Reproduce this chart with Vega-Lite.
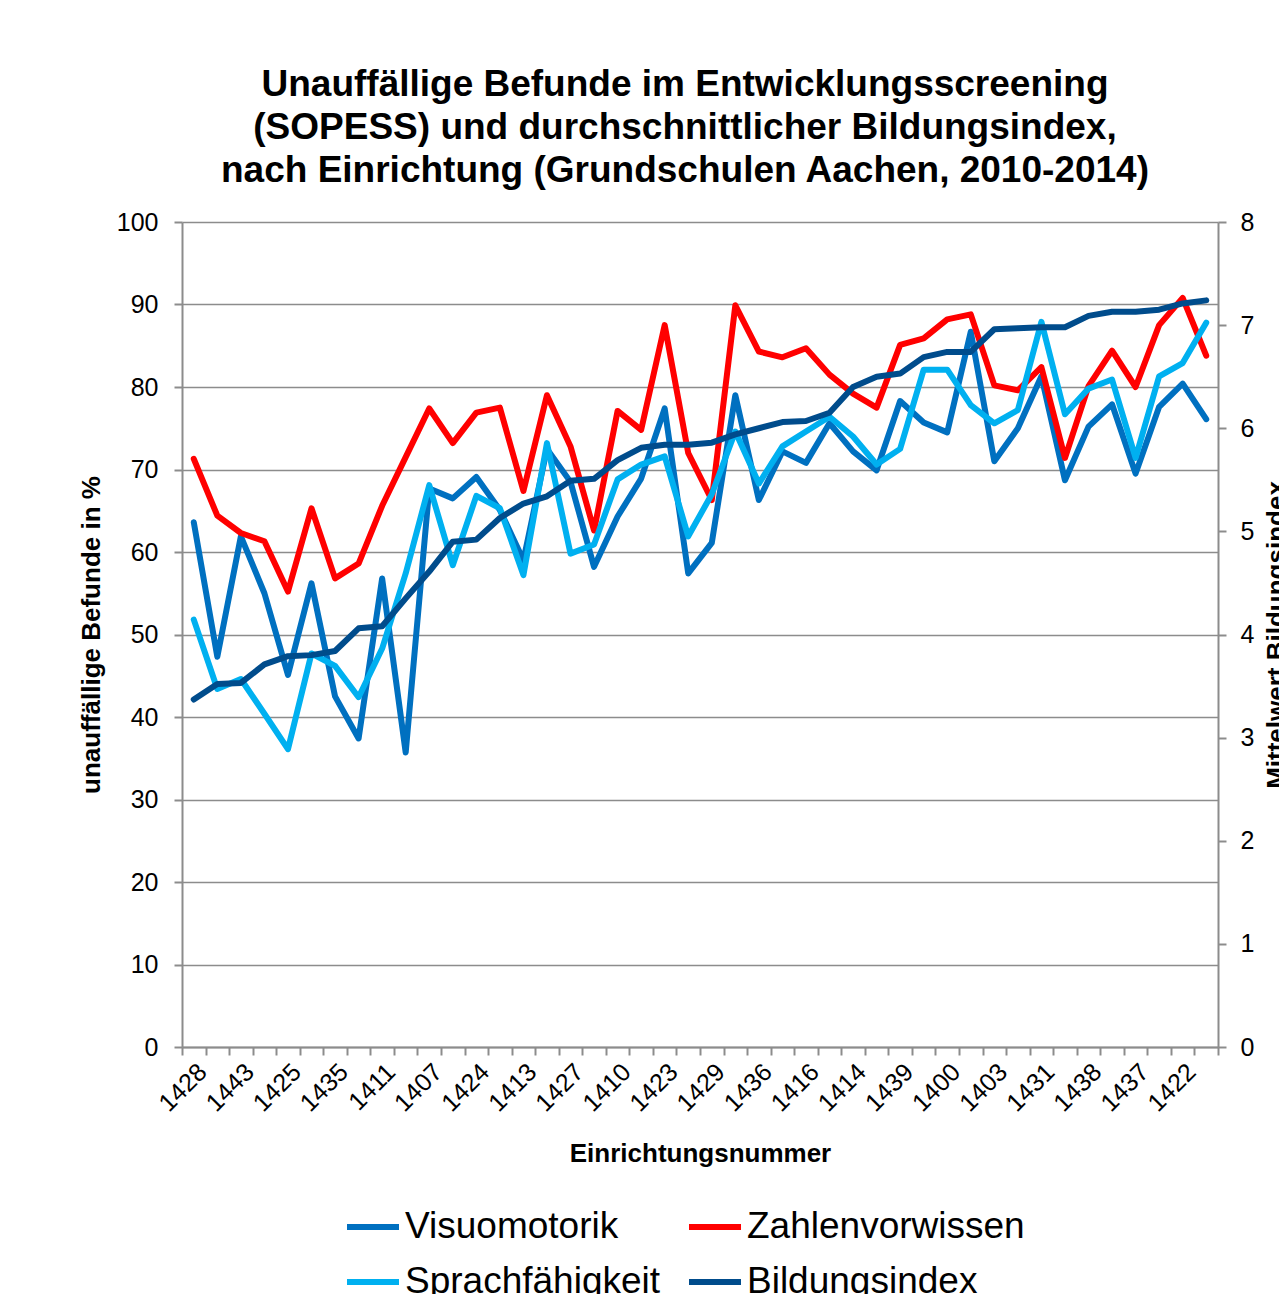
{
  "$schema": "https://vega.github.io/schema/vega-lite/v6.json",
  "width": 1036,
  "height": 825,
  "autosize": {"type": "none"},
  "padding": {"left": 182, "top": 222, "right": 61, "bottom": 247},
  "background": "white",
  "title": {
    "text": ["Unauffällige Befunde im Entwicklungsscreening", "(SOPESS) und durchschnittlicher Bildungsindex,", "nach Einrichtung (Grundschulen Aachen, 2010-2014)"],
    "fontSize": 37, "fontWeight": "bold", "lineHeight": 43, "font": "Liberation Sans", "color": "black", "anchor": "middle", "offset": 20, "dx": -15
  },
  "data": {"values": [
    {"nr": "1428", "Visuomotorik": 63.6, "Zahlenvorwissen": 71.3, "Sprachfähigkeit": 51.8, "Bildungsindex": 3.37},
    {"nr": "1412", "Visuomotorik": 47.3, "Zahlenvorwissen": 64.4, "Sprachfähigkeit": 43.4, "Bildungsindex": 3.52},
    {"nr": "1443", "Visuomotorik": 61.9, "Zahlenvorwissen": 62.3, "Sprachfähigkeit": 44.6, "Bildungsindex": 3.53},
    {"nr": "1433", "Visuomotorik": 55.0, "Zahlenvorwissen": 61.3, "Sprachfähigkeit": 40.4, "Bildungsindex": 3.71},
    {"nr": "1425", "Visuomotorik": 45.1, "Zahlenvorwissen": 55.2, "Sprachfähigkeit": 36.1, "Bildungsindex": 3.79},
    {"nr": "1419", "Visuomotorik": 56.2, "Zahlenvorwissen": 65.3, "Sprachfähigkeit": 47.7, "Bildungsindex": 3.80},
    {"nr": "1435", "Visuomotorik": 42.5, "Zahlenvorwissen": 56.8, "Sprachfähigkeit": 46.2, "Bildungsindex": 3.84},
    {"nr": "1441", "Visuomotorik": 37.4, "Zahlenvorwissen": 58.6, "Sprachfähigkeit": 42.4, "Bildungsindex": 4.06},
    {"nr": "1411", "Visuomotorik": 56.8, "Zahlenvorwissen": 65.6, "Sprachfähigkeit": 48.3, "Bildungsindex": 4.08},
    {"nr": "1404", "Visuomotorik": 35.7, "Zahlenvorwissen": 71.5, "Sprachfähigkeit": 57.4, "Bildungsindex": 4.35},
    {"nr": "1407", "Visuomotorik": 67.7, "Zahlenvorwissen": 77.4, "Sprachfähigkeit": 68.1, "Bildungsindex": 4.61},
    {"nr": "1430", "Visuomotorik": 66.5, "Zahlenvorwissen": 73.2, "Sprachfähigkeit": 58.4, "Bildungsindex": 4.90},
    {"nr": "1424", "Visuomotorik": 69.1, "Zahlenvorwissen": 76.9, "Sprachfähigkeit": 66.8, "Bildungsindex": 4.92},
    {"nr": "1418", "Visuomotorik": 65.1, "Zahlenvorwissen": 77.5, "Sprachfähigkeit": 65.3, "Bildungsindex": 5.13},
    {"nr": "1413", "Visuomotorik": 59.0, "Zahlenvorwissen": 67.4, "Sprachfähigkeit": 57.2, "Bildungsindex": 5.27},
    {"nr": "1405", "Visuomotorik": 72.5, "Zahlenvorwissen": 79.0, "Sprachfähigkeit": 73.2, "Bildungsindex": 5.34},
    {"nr": "1427", "Visuomotorik": 68.5, "Zahlenvorwissen": 72.8, "Sprachfähigkeit": 59.8, "Bildungsindex": 5.49},
    {"nr": "1440", "Visuomotorik": 58.2, "Zahlenvorwissen": 62.6, "Sprachfähigkeit": 60.9, "Bildungsindex": 5.51},
    {"nr": "1410", "Visuomotorik": 64.3, "Zahlenvorwissen": 77.1, "Sprachfähigkeit": 68.8, "Bildungsindex": 5.69},
    {"nr": "1426", "Visuomotorik": 68.9, "Zahlenvorwissen": 74.8, "Sprachfähigkeit": 70.6, "Bildungsindex": 5.81},
    {"nr": "1423", "Visuomotorik": 77.4, "Zahlenvorwissen": 87.5, "Sprachfähigkeit": 71.6, "Bildungsindex": 5.84},
    {"nr": "1442", "Visuomotorik": 57.4, "Zahlenvorwissen": 72.0, "Sprachfähigkeit": 61.9, "Bildungsindex": 5.84},
    {"nr": "1429", "Visuomotorik": 61.1, "Zahlenvorwissen": 66.3, "Sprachfähigkeit": 67.0, "Bildungsindex": 5.86},
    {"nr": "1401", "Visuomotorik": 79.0, "Zahlenvorwissen": 89.9, "Sprachfähigkeit": 74.6, "Bildungsindex": 5.94},
    {"nr": "1436", "Visuomotorik": 66.3, "Zahlenvorwissen": 84.3, "Sprachfähigkeit": 68.3, "Bildungsindex": 6.00},
    {"nr": "1409", "Visuomotorik": 72.2, "Zahlenvorwissen": 83.6, "Sprachfähigkeit": 72.8, "Bildungsindex": 6.06},
    {"nr": "1416", "Visuomotorik": 70.8, "Zahlenvorwissen": 84.7, "Sprachfähigkeit": 74.6, "Bildungsindex": 6.07},
    {"nr": "1434", "Visuomotorik": 75.6, "Zahlenvorwissen": 81.5, "Sprachfähigkeit": 76.4, "Bildungsindex": 6.15},
    {"nr": "1414", "Visuomotorik": 72.2, "Zahlenvorwissen": 79.2, "Sprachfähigkeit": 74.0, "Bildungsindex": 6.40},
    {"nr": "1420", "Visuomotorik": 69.9, "Zahlenvorwissen": 77.5, "Sprachfähigkeit": 70.6, "Bildungsindex": 6.50},
    {"nr": "1439", "Visuomotorik": 78.3, "Zahlenvorwissen": 85.1, "Sprachfähigkeit": 72.5, "Bildungsindex": 6.53},
    {"nr": "1406", "Visuomotorik": 75.7, "Zahlenvorwissen": 85.9, "Sprachfähigkeit": 82.1, "Bildungsindex": 6.69},
    {"nr": "1400", "Visuomotorik": 74.5, "Zahlenvorwissen": 88.2, "Sprachfähigkeit": 82.1, "Bildungsindex": 6.74},
    {"nr": "1444", "Visuomotorik": 86.7, "Zahlenvorwissen": 88.8, "Sprachfähigkeit": 77.8, "Bildungsindex": 6.74},
    {"nr": "1403", "Visuomotorik": 71.0, "Zahlenvorwissen": 80.2, "Sprachfähigkeit": 75.6, "Bildungsindex": 6.96},
    {"nr": "1432", "Visuomotorik": 75.0, "Zahlenvorwissen": 79.6, "Sprachfähigkeit": 77.2, "Bildungsindex": 6.97},
    {"nr": "1431", "Visuomotorik": 81.3, "Zahlenvorwissen": 82.4, "Sprachfähigkeit": 87.9, "Bildungsindex": 6.98},
    {"nr": "1415", "Visuomotorik": 68.7, "Zahlenvorwissen": 71.4, "Sprachfähigkeit": 76.7, "Bildungsindex": 6.98},
    {"nr": "1438", "Visuomotorik": 75.2, "Zahlenvorwissen": 80.1, "Sprachfähigkeit": 79.8, "Bildungsindex": 7.09},
    {"nr": "1408", "Visuomotorik": 77.9, "Zahlenvorwissen": 84.4, "Sprachfähigkeit": 80.9, "Bildungsindex": 7.13},
    {"nr": "1437", "Visuomotorik": 69.5, "Zahlenvorwissen": 80.0, "Sprachfähigkeit": 71.4, "Bildungsindex": 7.13},
    {"nr": "1417", "Visuomotorik": 77.6, "Zahlenvorwissen": 87.5, "Sprachfähigkeit": 81.3, "Bildungsindex": 7.15},
    {"nr": "1422", "Visuomotorik": 80.4, "Zahlenvorwissen": 90.8, "Sprachfähigkeit": 82.9, "Bildungsindex": 7.21},
    {"nr": "1421", "Visuomotorik": 76.1, "Zahlenvorwissen": 83.8, "Sprachfähigkeit": 87.8, "Bildungsindex": 7.24}
  ]},
  "encoding": {
    "x": {
      "field": "nr", "type": "nominal", "sort": null, "bandPosition": 0.5,
      "scale": {"type": "band", "paddingInner": 0, "paddingOuter": 0},
      "axis": {
        "title": "Einrichtungsnummer", "titleFontSize": 26, "titleFontWeight": "bold", "titlePadding": 24,
        "labelAngle": -45, "labelFontSize": 25, "labelOverlap": false, "labelPadding": 4,
        "labelExpr": "round(datum.index * 43) % 2 === 0 ? datum.label : ''",
        "tickBand": "extent", "tickSize": 8, "tickWidth": 2, "grid": false
      }
    }
  },
  "layer": [
    {
      "transform": [{"fold": ["Visuomotorik", "Zahlenvorwissen", "Sprachfähigkeit"], "as": ["Bereich", "Wert"]}],
      "mark": {"type": "line", "strokeWidth": 6, "strokeJoin": "round", "strokeCap": "round"},
      "encoding": {
        "y": {
          "field": "Wert", "type": "quantitative",
          "scale": {"domain": [0, 100], "nice": false, "zero": true},
          "axis": {
            "orient": "left", "title": "unauffällige Befunde in %", "values": [0, 10, 20, 30, 40, 50, 60, 70, 80, 90, 100],
            "grid": true, "labelFontSize": 25, "labelPadding": 16, "titleFontSize": 26, "titleFontWeight": "bold", "titlePadding": 12
          }
        },
        "color": {
          "field": "Bereich", "type": "nominal",
          "scale": {"domain": ["Visuomotorik", "Zahlenvorwissen", "Sprachfähigkeit", "Bildungsindex"], "range": ["#0070C0", "#FF0000", "#00B0F0", "#004C8C"]},
          "legend": {
            "title": null, "orient": "none", "legendX": 162, "legendY": 976, "columns": 2, "direction": "horizontal",
            "columnPadding": 16, "rowPadding": 8, "labelFontSize": 37, "labelFont": "Liberation Sans", "labelColor": "black",
            "symbolType": "stroke", "symbolStrokeWidth": 6, "symbolSize": 2704, "labelOffset": 3, "labelLimit": 0, "padding": 0
          }
        }
      }
    },
    {
      "mark": {"type": "line", "strokeWidth": 6, "strokeJoin": "round", "strokeCap": "round"},
      "encoding": {
        "y": {
          "field": "Bildungsindex", "type": "quantitative",
          "scale": {"domain": [0, 8], "nice": false, "zero": true},
          "axis": {
            "orient": "right", "title": "Mittelwert Bildungsindex", "values": [0, 1, 2, 3, 4, 5, 6, 7, 8],
            "grid": false, "labelFontSize": 25, "labelPadding": 14, "titleFontSize": 26, "titleFontWeight": "bold",
            "titleAngle": 270, "titleBaseline": "top", "titlePadding": 10
          }
        },
        "color": {"datum": "Bildungsindex"}
      }
    }
  ],
  "resolve": {"scale": {"y": "independent"}},
  "config": {
    "font": "Liberation Sans",
    "view": {"stroke": null},
    "axis": {
      "labelFont": "Liberation Sans", "titleFont": "Liberation Sans", "labelColor": "black", "titleColor": "black",
      "domainColor": "#8C8C8C", "domainWidth": 2, "tickColor": "#8C8C8C", "tickWidth": 2, "tickSize": 8,
      "gridColor": "#8C8C8C", "gridWidth": 1.5
    }
  }
}
